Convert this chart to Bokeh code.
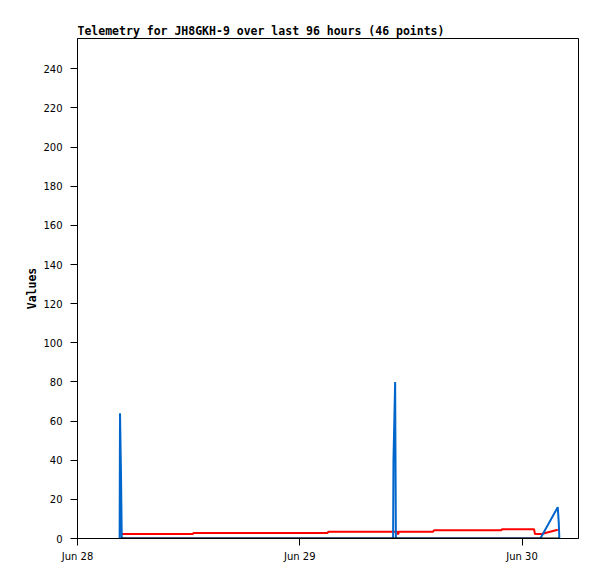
from bokeh.plotting import figure
from bokeh.models import FixedTicker, Range1d
from bokeh.embed import file_html
from bokeh.resources import INLINE

# ---- data (hours since Jun 28 00:00) ----
title_text = "Telemetry for JH8GKH-9 over last 96 hours (46 points)"
x_tick_hours = [0, 24, 48]
x_tick_labels = ["Jun 28", "Jun 29", "Jun 30"]
y_ticks = [0, 20, 40, 60, 80, 100, 120, 140, 160, 180, 200, 220, 240]

red_t = [4.75, 12.45, 12.55, 27.0, 27.1, 34.55, 34.62, 34.7, 38.4, 38.5,
         45.75, 45.85, 49.3, 49.4, 50.1, 51.86]
red_v = [2.3, 2.3, 2.8, 2.8, 3.5, 3.5, 2.0, 3.5, 3.5, 4.2,
         4.2, 4.7, 4.7, 2.3, 2.3, 4.5]

blue_t = [4.55, 4.59, 4.70, 4.78, 34.08, 34.12, 34.30, 34.38, 49.98, 51.86, 51.97, 52.03]
blue_v = [0, 64, 32, 0, 0, 40, 80, 0, 0, 16, 8, 0]

black_t = [4.70, 12.5, 27.0, 34.4, 38.5, 45.8, 49.4, 52.03]
black_v = [0, 0, 0, 0, 0, 0, 0, 0]

p = figure(width=589, height=571, output_backend="svg", toolbar_location=None,
           x_range=Range1d(0, 54.1), y_range=Range1d(0, 255.5),
           title=title_text,
           min_border_left=77, min_border_right=11, min_border_top=38, min_border_bottom=33)

p.title.text_font = "DejaVu Sans Mono"
p.title.text_font_style = "bold"
p.title.text_font_size = "11.5px"
p.title.align = "left"
p.title.standoff = 2
p.title.text_color = "black"

p.xgrid.visible = False
p.ygrid.visible = False
p.outline_line_color = "black"
p.outline_line_alpha = 1.0
p.outline_line_width = 1
p.background_fill_color = "white"
p.border_fill_color = "white"

p.xaxis.ticker = FixedTicker(ticks=x_tick_hours)
p.xaxis.major_label_overrides = {t: l for t, l in zip(x_tick_hours, x_tick_labels)}
p.yaxis.ticker = FixedTicker(ticks=y_ticks)

for ax in (p.xaxis[0], p.yaxis[0]):
    ax.minor_tick_line_color = None
    ax.major_tick_in = 0
    ax.major_tick_out = 7
    ax.major_tick_line_color = "black"
    ax.axis_line_color = "black"
    ax.major_label_text_font = "DejaVu Sans"
    ax.major_label_text_font_size = "10px"
    ax.major_label_text_color = "black"

p.xaxis.major_label_standoff = 5
p.yaxis.major_label_standoff = 8
p.yaxis.axis_label = "Values"
p.yaxis.axis_label_text_font = "DejaVu Sans Mono"
p.yaxis.axis_label_text_font_style = "bold"
p.yaxis.axis_label_text_font_size = "11.5px"
p.yaxis.axis_label_text_color = "black"
p.yaxis.axis_label_standoff = 1

p.line(red_t, red_v, line_color="#FF0000", line_width=2)
p.line(blue_t, blue_v, line_color="#0066CC", line_width=2)
p.line(black_t, black_v, line_color="black", line_width=2)

open("out.html", "w").write(file_html(p, INLINE))
